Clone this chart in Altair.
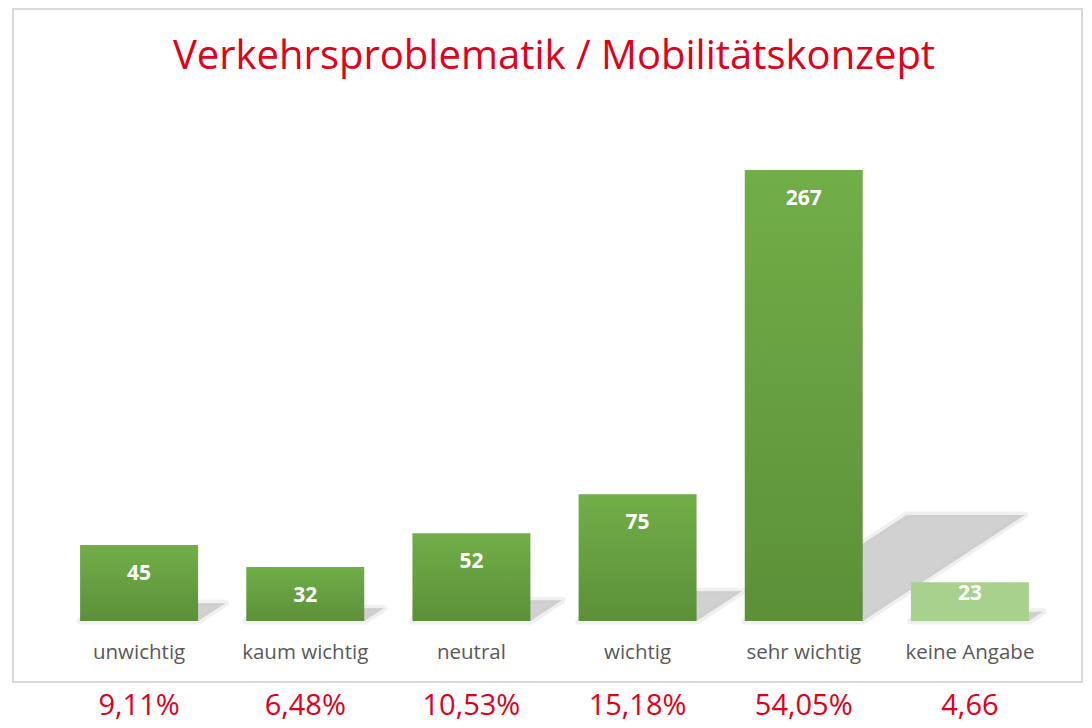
import altair as alt
import pandas as pd

categories = ["unwichtig", "kaum wichtig", "neutral", "wichtig", "sehr wichtig", "keine Angabe"]
values = [45, 32, 52, 75, 267, 23]
percent_labels = ["9,11%", "6,48%", "10,53%", "15,18%", "54,05%", "4,66"]
title_text = "Verkehrsproblematik / Mobilitätskonzept"

RED = "#E2001A"
GRAY = "#595959"

df = pd.DataFrame({"cat": categories, "val": values, "pct": percent_labels,
                   "idx": list(range(len(categories)))})

# shadow polygons derived from values (perspective shadow sheared to the upper right)
half_w = 0.355
shear = 0.00365
hfac = 0.235
rows = []
for i, v in enumerate(values):
    c = i + 0.5
    l, r = c - half_w, c + half_w
    d = shear * v
    h = hfac * v
    xs = sorted([l, min(r, l + d), max(r, l + d), r + d])
    for xv in xs:
        lo = min(h, max(0.0, (xv - r) / d * h))
        up = min(h, max(0.0, (xv - l) / d * h))
        rows.append({"bar": i, "xx": xv, "lo": lo, "up": up})
shadow_df = pd.DataFrame(rows)

yscale = alt.Scale(domain=[0, 267], range=[613, 162], nice=False, zero=True)
xband = alt.Scale(domain=categories, range=[48, 1045], paddingInner=0.29, paddingOuter=0.145)
xlin = alt.Scale(domain=[0, 6], range=[48, 1045], nice=False, zero=False)

frame = alt.Chart(df).mark_rect(fill="white", stroke="#d9d9d9", strokeWidth=2).encode(
    x=alt.value(5), x2=alt.value(1074), y=alt.value(1), y2=alt.value(674)
).transform_filter("datum.idx == 0")

shadow_soft = alt.Chart(shadow_df).mark_area(
    fill="#d4d4d4", fillOpacity=0.5, stroke="#d4d4d4", strokeWidth=7, strokeOpacity=0.35,
    strokeJoin="round"
).encode(
    x=alt.X("xx:Q", scale=xlin, axis=None),
    y=alt.Y("up:Q", scale=yscale, axis=None),
    y2="lo:Q",
    detail="bar:N",
)

shadow = alt.Chart(shadow_df).mark_area(color="#c8c8c8", opacity=0.75).encode(
    x=alt.X("xx:Q", scale=xlin, axis=None),
    y=alt.Y("up:Q", scale=yscale, axis=None),
    y2="lo:Q",
    detail="bar:N",
)

grad = alt.Gradient(gradient="linear", x1=0, y1=0, x2=0, y2=1,
                    stops=[alt.GradientStop(color="#71AE48", offset=0),
                           alt.GradientStop(color="#5C9039", offset=1)])

bars = alt.Chart(df).mark_bar(fill=grad).encode(
    x=alt.X("cat:N", scale=xband, axis=None, sort=categories),
    y=alt.Y("val:Q", scale=yscale, axis=None),
).transform_filter("datum.cat != 'keine Angabe'")

bar_light = alt.Chart(df).mark_bar(color="#A9D18E").encode(
    x=alt.X("cat:N", scale=xband, axis=None, sort=categories),
    y=alt.Y("val:Q", scale=yscale, axis=None),
).transform_filter("datum.cat == 'keine Angabe'")

lbl_main = alt.Chart(df).mark_text(font="Open Sans", fontSize=21, fontWeight="bold", color="white",
                                   baseline="middle", dy=29).encode(
    x=alt.X("cat:N", scale=xband, axis=None, sort=categories),
    y=alt.Y("val:Q", scale=yscale, axis=None),
    text="val:Q",
).transform_filter("datum.cat != 'keine Angabe'")

lbl_small = alt.Chart(df).mark_text(font="Open Sans", fontSize=21, fontWeight="bold", color="white",
                                    baseline="middle", dy=12).encode(
    x=alt.X("cat:N", scale=xband, axis=None, sort=categories),
    y=alt.Y("val:Q", scale=yscale, axis=None),
    text="val:Q",
).transform_filter("datum.cat == 'keine Angabe'")

cat_lbl = alt.Chart(df).mark_text(font="Open Sans", fontSize=20.5, color=GRAY, baseline="alphabetic").encode(
    x=alt.X("cat:N", scale=xband, axis=None, sort=categories),
    y=alt.value(651),
    text="cat:N",
)

pct_lbl = alt.Chart(df).mark_text(font="Open Sans", fontSize=29, color=RED, baseline="alphabetic").encode(
    x=alt.X("cat:N", scale=xband, axis=None, sort=categories),
    y=alt.value(707),
    text="pct:N",
)

title = alt.Chart(pd.DataFrame({"t": [title_text]})).mark_text(
    font="Open Sans", fontSize=40, color=RED, baseline="alphabetic", align="center"
).encode(x=alt.value(546), y=alt.value(61), text="t:N")

chart = alt.layer(
    frame, shadow_soft, shadow, bars, bar_light, lbl_main, lbl_small, cat_lbl, pct_lbl, title
).resolve_scale(x="independent").properties(
    width=1076, height=716, padding=0, autosize=alt.AutoSizeParams(type="none"),
    background="white"
).configure_view(stroke=None)

chart.save("out.html", embed_options={"renderer": "svg", "actions": False})
